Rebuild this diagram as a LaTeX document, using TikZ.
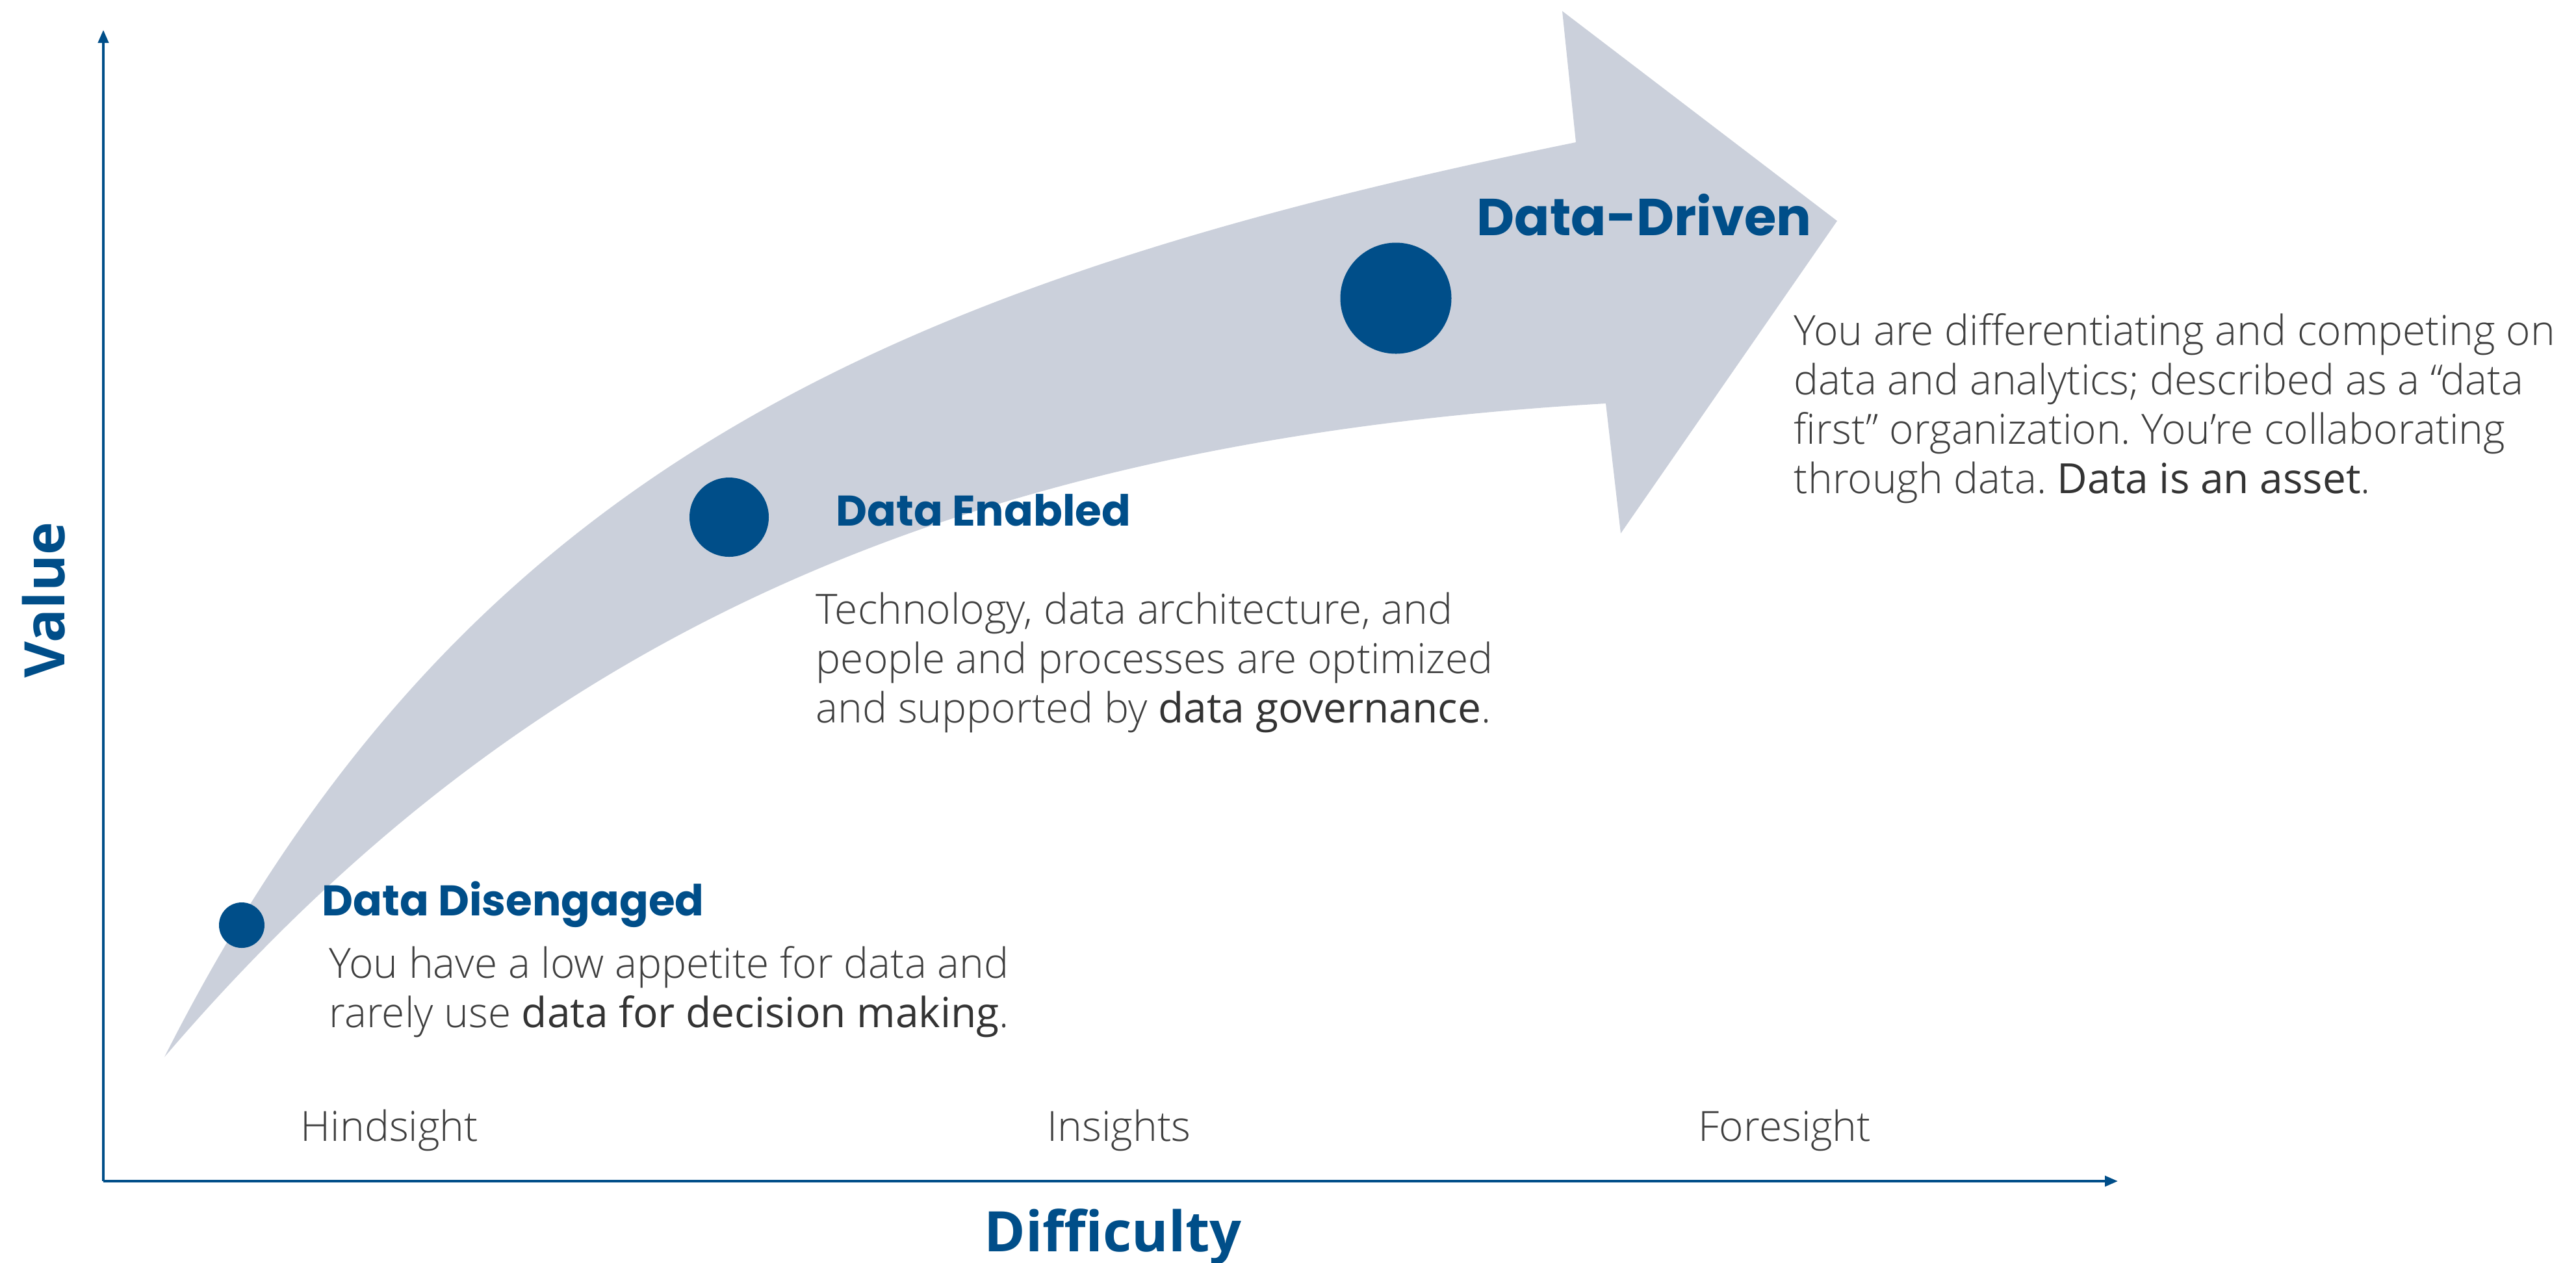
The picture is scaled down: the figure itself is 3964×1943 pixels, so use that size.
\documentclass[tikz,border=0pt]{standalone}
\usepackage{fontspec}
\setmainfont{Open Sans}
\newfontfamily\lightf{Open Sans Light}
\newfontfamily\regf{Open Sans}
\newfontfamily\titlef{Poppins}
\usetikzlibrary{arrows.meta}
\definecolor{dblue}{HTML}{004E89}
\definecolor{bandgray}{HTML}{CBD0DB}
\definecolor{txt}{HTML}{3F3F3F}
\definecolor{txtem}{HTML}{333333}
\newcommand{\hl}[1]{{\regf\color{txtem}#1}}
\frenchspacing
\begin{document}
\begin{tikzpicture}[x=0.25pt,y=-0.25pt,
  axis/.style={draw=dblue, line width=1pt, -{Triangle[length=5pt,width=4pt]}},
  dot/.style={circle, fill=dblue, inner sep=0pt},
  title/.style={font=\titlef\bfseries\fontsize{16.5pt}{19pt}\selectfont, text=dblue, inner sep=0pt, anchor=base west},
  bigtitle/.style={title, font=\titlef\bfseries\fontsize{20pt}{24pt}\selectfont},
  body/.style={font=\lightf\fontsize{16pt}{19pt}\selectfont\frenchspacing, text=txt, inner sep=0pt, anchor=base west},
  axlabel/.style={font=\regf\bfseries\fontsize{21.5pt}{24pt}\selectfont, text=dblue, inner sep=0pt, anchor=base west}]
\useasboundingbox (0,0) rectangle (3964,1943);

% axes
\coordinate (O) at (159,1818);
\coordinate (Ytop) at (159,46);
\coordinate (Xend) at (3259,1818);
\draw[axis] (O) -- (Ytop);
\draw[axis] (O) -- (Xend);

% big curved arrow
\coordinate (tail) at (253,1627);
\coordinate (ushoulder) at (2425,219);
\coordinate (ubarb) at (2404,17);
\coordinate (tip) at (2827,340);
\coordinate (lbarb) at (2494,821);
\coordinate (lshoulder) at (2471,621);
\fill[bandgray] (tail) .. controls (703,737) and (1347,439) .. (ushoulder)
  -- (ubarb) -- (tip) -- (lbarb) -- (lshoulder)
  .. controls (1473,679) and (805.5,981) .. (tail) -- cycle;

% stage dots
\node[dot, minimum size=17.5pt] (c1) at (372,1424) {};
\node[dot, minimum size=30.5pt] (c2) at (1122,796) {};
\node[dot, minimum size=42.75pt] (c3) at (2148,459) {};

% titles
\node[title] (t1) at (495,1409) {Data Disengaged};
\node[title] (t2) at (1286,809) {Data Enabled};
\node[bigtitle] (t3) at (2272,362) {Data-Driven};

% descriptions
\node[body] (b1) at (506,1505) {\vtop{\hbox{You have a low appetite for data and}\hbox{rarely use \hl{data for decision making}.}}};
\node[body] (b2) at (1255,960) {\vtop{\hbox{Technology, data architecture, and}\hbox{people and processes are optimized}\hbox{and supported by \hl{data governance}.}}};
\node[body] (b3) at (2760,531) {\vtop{\hbox{You are differentiating and competing on}\hbox{data and analytics; described as a “data}\hbox{first” organization. You’re collaborating}\hbox{through data. \hl{Data is an asset}.}}};

% axis categories
\node[body] (h1) at (462,1756) {Hindsight};
\node[body] (h2) at (1611,1756) {Insights};
\node[body] (h3) at (2613,1756) {Foresight};

% axis titles
\node[axlabel] (xl) at (1514,1926) {Difficulty};
\node[axlabel, rotate=90] (yl) at (99,1044) {Value};
\end{tikzpicture}
\end{document}
